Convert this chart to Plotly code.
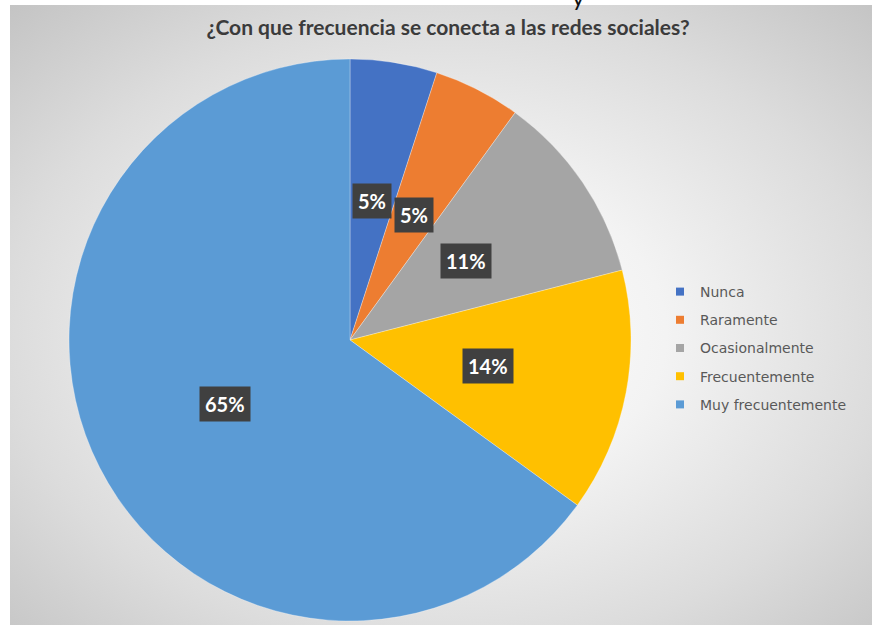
import base64
import math
import plotly.graph_objects as go

# Survey answers: how often the respondent connects to social networks (%)
categories = ["Nunca", "Raramente", "Ocasionalmente", "Frecuentemente", "Muy frecuentemente"]
shares = [5, 5, 11, 14, 65]
colors = ["#4472C4", "#ED7D31", "#A5A5A5", "#FFC000", "#5B9BD5"]
title_text = "¿Con que frecuencia se conecta a las redes sociales?"

W, H = 872, 625
CX, CY, R = 350, 340, 281  # pie centre / radius in pixels
BX, BY = 10, 5             # white frame at left / top

# radial grey backdrop as an inline svg image
svg = (
    "<svg xmlns='http://www.w3.org/2000/svg' width='862' height='620' "
    "viewBox='0 0 862 620' preserveAspectRatio='none'>"
    "<defs><radialGradient id='g' cx='0.5' cy='0.52' r='0.72'>"
    "<stop offset='0' stop-color='#ffffff'/>"
    "<stop offset='0.35' stop-color='#f3f3f3'/>"
    "<stop offset='0.7' stop-color='#dcdcdc'/>"
    "<stop offset='1' stop-color='#c4c4c4'/>"
    "</radialGradient></defs>"
    "<rect width='862' height='620' fill='url(#g)'/></svg>"
)
bg_src = "data:image/svg+xml;base64," + base64.b64encode(svg.encode()).decode()

fig = go.Figure()

fig.add_trace(go.Pie(
    labels=categories,
    values=shares,
    sort=False,
    direction="clockwise",
    rotation=0,
    marker=dict(colors=colors, line=dict(color="rgba(255,255,255,0.5)", width=0.6)),
    textinfo="none",
    hoverinfo="label+percent",
    showlegend=False,
    domain=dict(x=[(CX - R) / W, (CX + R) / W], y=[1 - (CY + R) / H, 1 - (CY - R) / H]),
))

# legend entries, one group each so the spacing can be widened
for name, col in zip(categories, colors):
    fig.add_trace(go.Scatter(
        x=[None], y=[None], mode="markers", name=name, legendgroup=name,
        marker=dict(symbol="square", size=8, color=col),
    ))

# percentage labels in dark boxes at the middle of each slice
total = sum(shares)
cum = 0
annotations = []
for v in shares:
    mid = (cum + v / 2) / total * 2 * math.pi
    cum += v
    px = CX + 0.5 * R * math.sin(mid)
    py = CY - 0.5 * R * math.cos(mid)
    annotations.append(dict(
        x=px / W, y=1 - py / H, xref="paper", yref="paper",
        xanchor="center", yanchor="middle",
        text=f"{round(v / total * 100)}%", showarrow=False,
        font=dict(family="Lato", size=20, color="white", weight="bold"),
        bgcolor="#404040", borderpad=5,
    ))

annotations.append(dict(
    x=578 / W, y=1 - 13 / H, xref="paper", yref="paper", text="y",
    showarrow=False, xanchor="center", yanchor="bottom",
    font=dict(family="Lato", size=24, color="#111111"),
))

fig.update_layout(
    width=W, height=H,
    margin=dict(l=0, r=0, t=0, b=0),
    paper_bgcolor="#c8c8c8",
    plot_bgcolor="rgba(0,0,0,0)",
    xaxis=dict(visible=False),
    yaxis=dict(visible=False),
    title=dict(
        text=f"<b>{title_text}</b>",
        x=448 / W, xanchor="center", y=1 - 28 / H, yanchor="middle",
        font=dict(family="Lato", size=21, color="#3b3b3b"),
    ),
    legend=dict(
        x=660 / W, y=1 - 276 / H, xanchor="left", yanchor="top",
        bgcolor="rgba(0,0,0,0)",
        font=dict(family="DejaVu Sans", size=14, color="#595959"),
        tracegroupgap=7, itemclick=False,
    ),
    annotations=annotations,
    images=[dict(
        source=bg_src, xref="paper", yref="paper",
        x=BX / W, y=1 - BY / H, sizex=(W - BX + 10) / W, sizey=(H - BY + 10) / H,
        xanchor="left", yanchor="top", sizing="stretch", layer="below",
    )],
    shapes=[
        dict(type="rect", xref="paper", yref="paper", x0=0, x1=BX / W, y0=0, y1=1,
             fillcolor="white", line=dict(width=0), layer="below"),
        dict(type="rect", xref="paper", yref="paper", x0=0, x1=1, y0=1 - BY / H, y1=1,
             fillcolor="white", line=dict(width=0), layer="below"),
    ],
)

fig.write_html("out.html")
